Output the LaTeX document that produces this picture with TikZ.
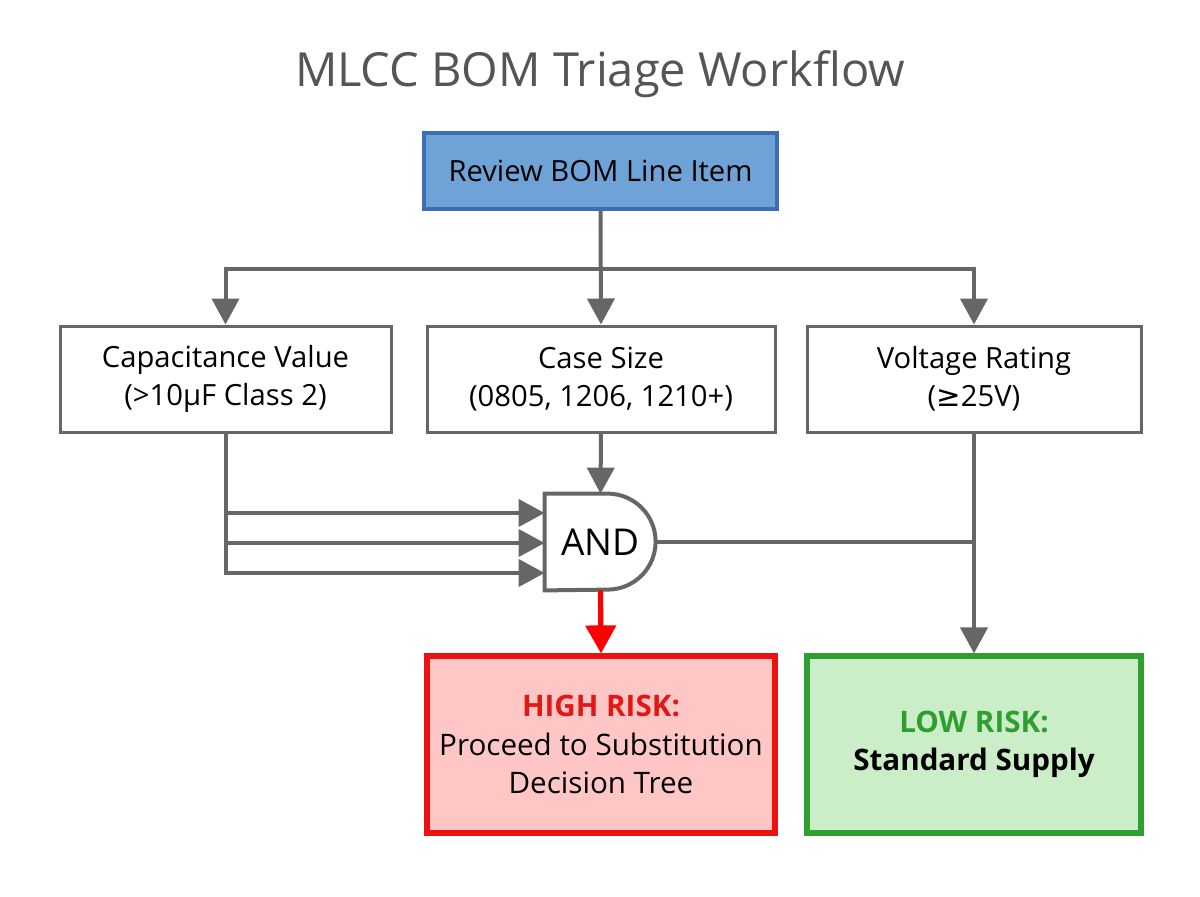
\documentclass[tikz,border=0pt]{standalone}
\usepackage{fontspec}
\setmainfont{Open Sans}
\newfontfamily\symfont{DejaVu Sans}
\usetikzlibrary{arrows.meta}
\definecolor{linegray}{HTML}{666666}
\definecolor{titlegray}{HTML}{555555}
\definecolor{revfill}{HTML}{6FA2D6}
\definecolor{revdraw}{HTML}{3A70B2}
\definecolor{hifill}{HTML}{FFC6C6}
\definecolor{hidraw}{HTML}{EE1111}
\definecolor{lofill}{HTML}{CBEDC8}
\definecolor{lodraw}{HTML}{2FA02F}
\definecolor{lotext}{HTML}{2E9E2E}
\definecolor{hitext}{HTML}{E01818}
\tikzset{
  line/.style={draw=linegray, line width=2pt},
  arr/.style={line, -{Triangle[length=13pt,width=13.5pt]}},
  redarr/.style={draw=red, line width=2.6pt, -{Triangle[length=14pt,width=15pt]}},
  crit/.style={draw=linegray, line width=1.5pt, fill=white, align=center, inner sep=0pt,
    minimum height=53pt, font=\fontsize{14.6}{19}\selectfont},
  outcome/.style={line width=2.6pt, align=center, inner sep=0pt, minimum height=88.5pt,
    font=\fontsize{14.8}{19.3}\selectfont},
  gate/.style={draw=linegray, line width=2pt, fill=white}
}
\begin{document}
\begin{tikzpicture}[x=0.5pt,y=-0.5pt]
\useasboundingbox[fill=white] (0,0) rectangle (1200,896);
\node[text=titlegray, font=\fontsize{23.5}{28}\selectfont] (title) at (600,74) {MLCC BOM Triage Workflow};
\node[draw=revdraw, fill=revfill, line width=2pt, minimum width=176.5pt, minimum height=38pt,
  inner sep=0pt, font=\fontsize{14.6}{18}\selectfont] (review) at (600.5,171) {Review BOM Line Item};
\node[crit, minimum width=165.5pt] (cap) at (225.5,379) {Capacitance Value\\(>10µF Class 2)};
\node[crit, minimum width=174pt] (case) at (601,379) {Case Size\\(0805, 1206, 1210+)};
\node[crit, minimum width=167pt] (volt) at (974,379) {Voltage Rating\\({\symfont ≥}25V)};
\node[outcome, draw=hidraw, fill=hifill, minimum width=174pt] (high) at (601,744.5)
  {\textcolor{hitext}{\bfseries HIGH RISK:}\\Proceed to Substitution\\Decision Tree};
\node[outcome, draw=lodraw, fill=lofill, minimum width=167pt] (low) at (974,744.5)
  {\textcolor{lotext}{\bfseries LOW RISK:}\\\bfseries Standard Supply};
% AND gate
\node[minimum width=55.5pt, minimum height=48pt, inner sep=0pt] (and) at (600.5,542) {};
\draw[gate] (and.north west) -- ++(63,0) arc[start angle=90, end angle=-90, radius=24pt] -- (and.south west) -- cycle;
\node[font=\fontsize{18.5}{20}\selectfont] (andtext) at (and.center) {AND};
% bus
\coordinate (bus) at (review.south |- 0,269);
\draw[arr] (review.south) -- (case.north);
\draw[arr] (bus) -| (cap.north);
\draw[arr] (bus) -| (volt.north);
% capacitance to gate
\coordinate (c1) at (cap.south |- 0,513);
\coordinate (c2) at (cap.south |- 0,543);
\coordinate (c3) at (cap.south |- 0,573);
\draw[arr] (cap.south) -- (c3) -- (c3 -| and.west);
\draw[arr] (c1) -- (c1 -| and.west);
\draw[arr] (c2) -- (c2 -| and.west);
% case to gate
\draw[arr] (case.south) -- (and.north);
% gate outputs
\draw[line] (and.east) -- (and.east -| volt.south);
\draw[arr] (volt.south) -- (low.north);
\draw[redarr] (and.south) -- (high.north);
\end{tikzpicture}
\end{document}
